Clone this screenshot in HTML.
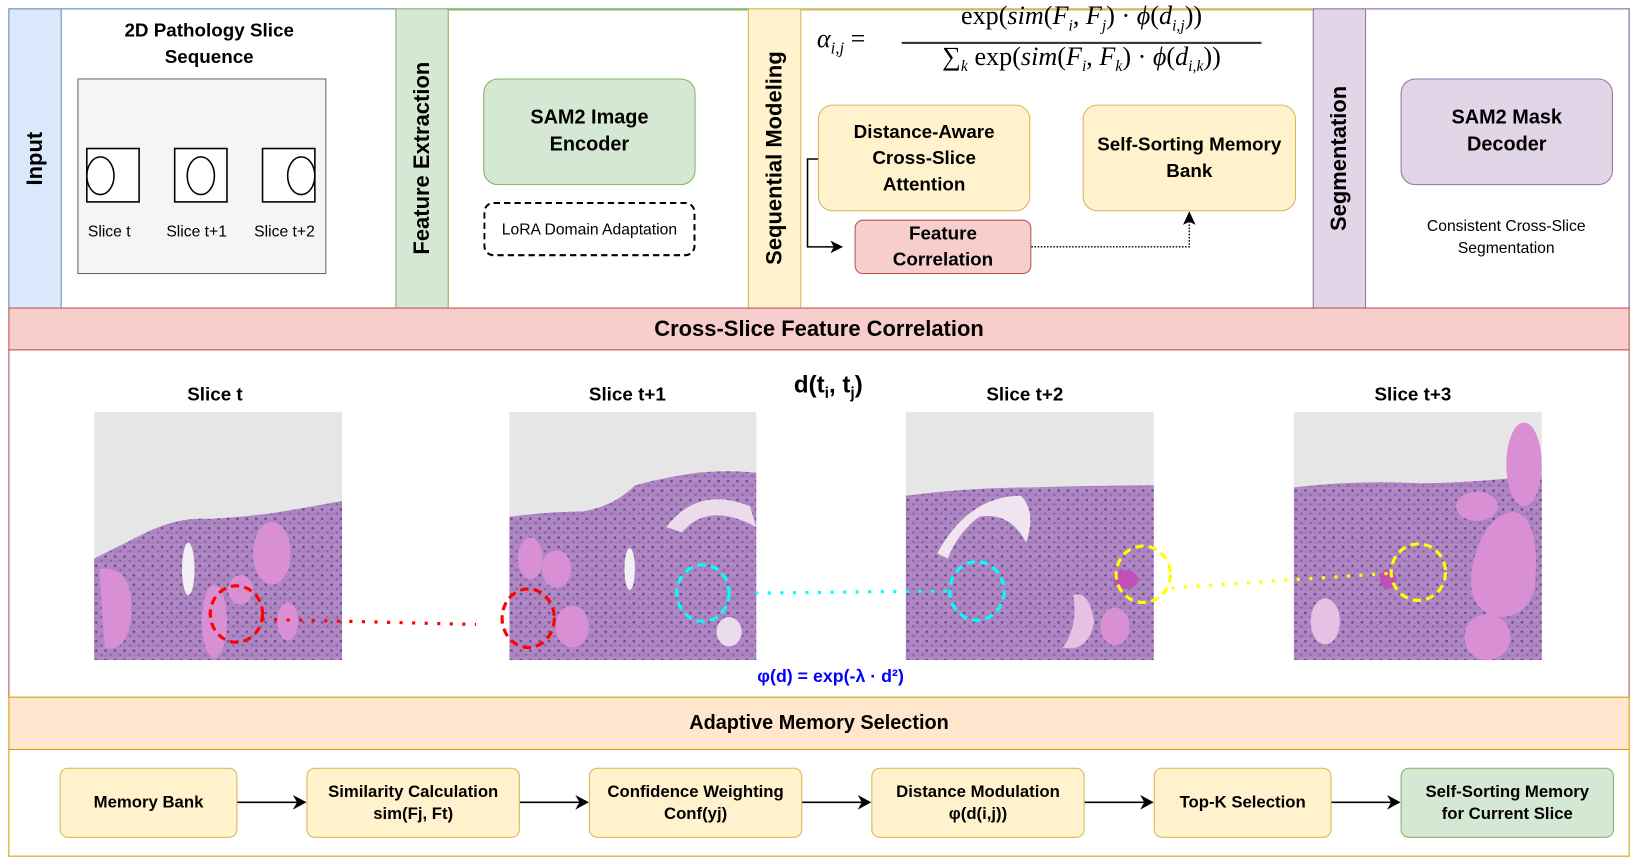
<!DOCTYPE html>
<html><head><meta charset="utf-8"><style>
html,body{margin:0;padding:0;background:#fff;width:1639px;height:862px;overflow:hidden}
#w{position:absolute;left:0;top:0;width:1566px;height:824px;transform:scale(1.046);transform-origin:0 0;font-family:"Liberation Sans",sans-serif}
.a{position:absolute;box-sizing:border-box}
.c{display:flex;align-items:center;justify-content:center;text-align:center}
.b{font-weight:bold}
.v{writing-mode:vertical-rl;transform:rotate(180deg);font-weight:bold;font-size:21px}
.ser{font-family:"Liberation Serif",serif}
</style></head><body><div id="w">
<!-- top row -->
<div class="a" style="left:8px;top:8px;width:1550px;height:287px;border:1.5px solid #6c8ebf;border-bottom:none"></div>
<div class="a c" style="left:8px;top:8px;width:51px;height:287px;background:#dae8fc;border:1.5px solid #6c8ebf"><span class="v">Input</span></div>
<div class="a" style="left:58px;top:8px;width:321px;height:287px;border-top:1.5px solid #6c8ebf"></div>
<div class="a c" style="left:378px;top:8px;width:51px;height:287px;background:#d5e8d4;border:1.5px solid #82b366"><span class="v">Feature Extraction</span></div>
<div class="a" style="left:429px;top:8px;width:287px;height:2px;background:#82b366"></div>
<div class="a c" style="left:715px;top:8px;width:51px;height:287px;background:#fff2cc;border:1.5px solid #d6b656"><span class="v">Sequential Modeling</span></div>
<div class="a" style="left:766px;top:8px;width:490px;height:2px;background:#d6b656"></div>
<div class="a c" style="left:1255px;top:8px;width:51px;height:287px;background:#e1d5e7;border:1.5px solid #9673a6"><span class="v">Segmentation</span></div>
<div class="a" style="left:1306px;top:8px;width:252px;height:287px;border:1.5px solid #9673a6;border-left:none;border-bottom:none"></div>

<div class="a c b" style="left:70px;top:16px;width:260px;height:52px;font-size:18px;line-height:25px">2D Pathology Slice<br>Sequence</div>
<div class="a" style="left:74px;top:75px;width:238px;height:187px;background:#f5f5f5;border:1.5px solid #666"></div>
<svg class="a" style="left:74px;top:75px" width="238" height="187">
<g fill="#fff" stroke="#000" stroke-width="1.5">
<rect x="9" y="67" width="50" height="51"/><ellipse cx="22" cy="93" rx="13" ry="18"/>
<rect x="93" y="67" width="50" height="51"/><ellipse cx="118" cy="93" rx="13" ry="18"/>
<rect x="177" y="67" width="50" height="51"/><ellipse cx="214" cy="93" rx="13" ry="18"/>
</g></svg>
<div class="a" style="left:84px;top:213px;font-size:15px">Slice t</div>
<div class="a" style="left:159px;top:213px;font-size:15px">Slice t+1</div>
<div class="a" style="left:243px;top:213px;font-size:15px">Slice t+2</div>

<div class="a c b" style="left:462px;top:75px;width:203px;height:102px;background:#d5e8d4;border:1.5px solid #82b366;border-radius:14px;font-size:19px;line-height:26px">SAM2 Image<br>Encoder</div>
<div class="a c" style="left:462px;top:193px;width:203px;height:52px;border:2px dashed #000;border-radius:10px;font-size:15px">LoRA Domain Adaptation</div>

<!-- formula -->
<div class="a ser" style="left:781px;top:24px;font-size:25px;font-style:italic">α<sub style="font-size:16px">i,j</sub> <span style="font-style:normal">=</span></div>
<div class="a ser" style="left:862px;top:2px;width:344px;text-align:center;font-size:25px;white-space:nowrap">exp(<i>sim</i>(<i>F<sub style="font-size:15px">i</sub></i>, <i>F<sub style="font-size:15px">j</sub></i>) · <i>ϕ</i>(<i>d<sub style="font-size:15px">i,j</sub></i>))</div>
<div class="a" style="left:862px;top:40px;width:344px;height:1.5px;background:#333"></div>
<div class="a ser" style="left:858px;top:41px;width:352px;text-align:center;font-size:25px;white-space:nowrap">∑<sub style="font-size:15px"><i>k</i></sub> exp(<i>sim</i>(<i>F<sub style="font-size:15px">i</sub></i>, <i>F<sub style="font-size:15px">k</sub></i>) · <i>ϕ</i>(<i>d<sub style="font-size:15px">i,k</sub></i>))</div>

<div class="a c b" style="left:782px;top:100px;width:203px;height:102px;background:#fff2cc;border:1.5px solid #d6b656;border-radius:14px;font-size:18px;line-height:25px">Distance-Aware<br>Cross-Slice<br>Attention</div>
<div class="a c b" style="left:1035px;top:100px;width:204px;height:102px;background:#fff2cc;border:1.5px solid #d6b656;border-radius:14px;font-size:18px;line-height:25px">Self-Sorting Memory<br>Bank</div>
<div class="a c b" style="left:817px;top:210px;width:169px;height:52px;background:#f8cecc;border:1.5px solid #b85450;border-radius:8px;font-size:18px;line-height:25px">Feature<br>Correlation</div>
<svg class="a" style="left:760px;top:140px" width="400" height="110">
<path d="M22 12 H12 V96 H40" fill="none" stroke="#000" stroke-width="1.5"/>
<path d="M46 96 L34 90 L37 96 L34 102 Z" fill="#000"/>
<path d="M226 96 H377 V72" fill="none" stroke="#000" stroke-width="1.3" stroke-dasharray="1.5,1.5"/>
<path d="M377 62 L371 75 L377 72 L383 75 Z" fill="#000"/>
</svg>

<div class="a c b" style="left:1339px;top:75px;width:203px;height:102px;background:#e1d5e7;border:1.5px solid #9673a6;border-radius:14px;font-size:19px;line-height:26px">SAM2 Mask<br>Decoder</div>
<div class="a c" style="left:1320px;top:205px;width:240px;height:44px;font-size:15px;line-height:21px">Consistent Cross-Slice<br>Segmentation</div>

<!-- cross-slice -->
<div class="a c b" style="left:8px;top:294px;width:1550px;height:41px;background:#f8cecc;border:1.5px solid #b85450;font-size:21px">Cross-Slice Feature Correlation</div>
<div class="a" style="left:8px;top:334px;width:1550px;height:333px;border:1.5px solid #b85450;border-top:none;border-bottom:none"></div>
<div class="a b" style="left:179px;top:367px;font-size:18px">Slice t</div>
<div class="a b" style="left:563px;top:367px;font-size:18px">Slice t+1</div>
<div class="a b" style="left:943px;top:367px;font-size:18px">Slice t+2</div>
<div class="a b" style="left:1314px;top:367px;font-size:18px">Slice t+3</div>
<div class="a b" style="left:759px;top:354px;font-size:23px">d(t<sub style="font-size:15px">i</sub>, t<sub style="font-size:15px">j</sub>)</div>

<svg class="a" style="left:0;top:380px" width="1560" height="270">
<defs>
<linearGradient id="g" x1="0" y1="0" x2="0" y2="1"><stop offset="0" stop-color="#b48cc4"/><stop offset="1" stop-color="#a97fbd"/></linearGradient>
<pattern id="p" width="9" height="9" patternUnits="userSpaceOnUse"><rect width="9" height="9" fill="url(#g)"/><circle cx="2" cy="3" r="1.3" fill="#6a4d9a"/><circle cx="7" cy="7" r="1" fill="#7a5aa8"/></pattern>
</defs>
<g transform="translate(90,14)">
<rect width="237" height="237" fill="#e6e6e6"/>
<path d="M0 140 Q30 125 50 115 Q80 100 110 102 Q150 100 180 95 Q210 90 237 85 V237 H0 Z" fill="url(#p)"/>
<path d="M5 150 Q40 145 35 200 Q30 230 10 225 Z" fill="#d98fd3"/>
<ellipse cx="170" cy="135" rx="18" ry="30" fill="#d98fd3"/>
<ellipse cx="115" cy="200" rx="12" ry="35" fill="#d98fd3"/>
<ellipse cx="140" cy="170" rx="12" ry="14" fill="#d98fd3"/>
<ellipse cx="90" cy="150" rx="6" ry="25" fill="#f3f0f3"/>
<ellipse cx="185" cy="200" rx="10" ry="18" fill="#d98fd3"/>
</g>
<g transform="translate(487,14)">
<rect width="236" height="237" fill="#e6e6e6"/>
<path d="M0 100 Q40 95 70 95 Q100 90 120 70 Q150 62 180 58 Q210 55 236 58 V237 H0 Z" fill="url(#p)"/>
<path d="M150 110 Q180 70 230 90 L236 110 Q190 85 165 115 Z" fill="#eadcea"/>
<ellipse cx="20" cy="140" rx="12" ry="20" fill="#d98fd3"/>
<ellipse cx="45" cy="150" rx="14" ry="18" fill="#d98fd3"/>
<ellipse cx="60" cy="205" rx="16" ry="20" fill="#d98fd3"/>
<ellipse cx="115" cy="150" rx="5" ry="20" fill="#f3f0f3"/>
<ellipse cx="210" cy="210" rx="12" ry="14" fill="#eadcea"/>
</g>
<g transform="translate(866,14)">
<rect width="237" height="237" fill="#e6e6e6"/>
<path d="M0 80 Q60 72 120 72 Q180 70 237 70 V237 H0 Z" fill="url(#p)"/>
<path d="M30 135 Q60 80 110 80 Q125 95 115 125 Q100 95 70 100 Q50 115 40 140 Z" fill="#f0e4f0"/>
<path d="M160 175 Q175 170 180 200 Q175 230 150 225 Q165 205 160 175 Z" fill="#e8c0e4"/>
<ellipse cx="200" cy="205" rx="14" ry="18" fill="#d98fd3"/>
<ellipse cx="210" cy="160" rx="12" ry="9" fill="#c050b8"/>
</g>
<g transform="translate(1237,14)">
<rect width="237" height="237" fill="#e6e6e6"/>
<path d="M0 72 Q60 65 120 68 Q170 68 237 60 V237 H0 Z" fill="url(#p)"/>
<path d="M170 150 Q180 100 210 95 Q237 100 230 170 Q220 200 190 195 Q165 185 170 150 Z" fill="#d98fd3"/>
<ellipse cx="220" cy="50" rx="17" ry="40" fill="#d98fd3"/>
<ellipse cx="175" cy="90" rx="20" ry="14" fill="#d98fd3"/>
<ellipse cx="185" cy="215" rx="22" ry="22" fill="#d98fd3"/>
<ellipse cx="30" cy="200" rx="14" ry="22" fill="#e8c0e4"/>
<ellipse cx="90" cy="160" rx="8" ry="9" fill="#c050b8"/>
</g>
<g fill="none" stroke-width="3" stroke-dasharray="3,9">
<path d="M250 212 L455 217" stroke="#ff0000"/>
<path d="M722 187 L908 185" stroke="#00ffff"/>
<path d="M1120 182 L1330 168" stroke="#ffff00"/>
</g>
<g fill="none" stroke-width="3" stroke-dasharray="8,5">
<ellipse cx="226" cy="207" rx="25" ry="27" stroke="#ff0000"/>
<ellipse cx="505" cy="211" rx="25" ry="28" stroke="#ff0000"/>
<ellipse cx="672" cy="187" rx="25" ry="27" stroke="#00ffff"/>
<ellipse cx="934" cy="185" rx="26" ry="28" stroke="#00ffff"/>
<ellipse cx="1093" cy="169" rx="26" ry="27" stroke="#ffff00"/>
<ellipse cx="1356" cy="167" rx="26" ry="27" stroke="#ffff00"/>
</g>
</svg>
<div class="a b" style="left:724px;top:637px;font-size:17px;color:#0000ff">φ(d) = exp(-λ · d²)</div>

<!-- adaptive -->
<div class="a c b" style="left:8px;top:666px;width:1550px;height:51px;background:#ffe6cc;border:1.5px solid #d79b00;font-size:19px">Adaptive Memory Selection</div>
<div class="a" style="left:8px;top:716px;width:1550px;height:103px;border:1.5px solid #d79b00;border-top:none"></div>
<div class="a c b" style="left:57px;top:734px;width:170px;height:67px;background:#fff2cc;border:1.5px solid #d6b656;border-radius:8px;font-size:16px">Memory Bank</div>
<div class="a c b" style="left:293px;top:734px;width:204px;height:67px;background:#fff2cc;border:1.5px solid #d6b656;border-radius:8px;font-size:16px;line-height:21px">Similarity Calculation<br>sim(Fj, Ft)</div>
<div class="a c b" style="left:563px;top:734px;width:204px;height:67px;background:#fff2cc;border:1.5px solid #d6b656;border-radius:8px;font-size:16px;line-height:21px">Confidence Weighting<br>Conf(yj)</div>
<div class="a c b" style="left:833px;top:734px;width:204px;height:67px;background:#fff2cc;border:1.5px solid #d6b656;border-radius:8px;font-size:16px;line-height:21px">Distance Modulation<br>φ(d(i,j))</div>
<div class="a c b" style="left:1103px;top:734px;width:170px;height:67px;background:#fff2cc;border:1.5px solid #d6b656;border-radius:8px;font-size:16px">Top-K Selection</div>
<div class="a c b" style="left:1339px;top:734px;width:204px;height:67px;background:#d5e8d4;border:1.5px solid #82b366;border-radius:8px;font-size:16px;line-height:21px">Self-Sorting Memory<br>for Current Slice</div>
<svg class="a" style="left:0;top:750px" width="1560" height="40">
<g stroke="#000" stroke-width="1.5">
<line x1="227" y1="17" x2="284" y2="17"/><line x1="497" y1="17" x2="554" y2="17"/><line x1="767" y1="17" x2="824" y2="17"/><line x1="1037" y1="17" x2="1094" y2="17"/><line x1="1273" y1="17" x2="1330" y2="17"/>
</g>
<g fill="#000">
<path d="M293 17 L280 10 L284 17 L280 24Z"/><path d="M563 17 L550 10 L554 17 L550 24Z"/><path d="M833 17 L820 10 L824 17 L820 24Z"/><path d="M1103 17 L1090 10 L1094 17 L1090 24Z"/><path d="M1339 17 L1326 10 L1330 17 L1326 24Z"/>
</g></svg>
</div></body></html>
